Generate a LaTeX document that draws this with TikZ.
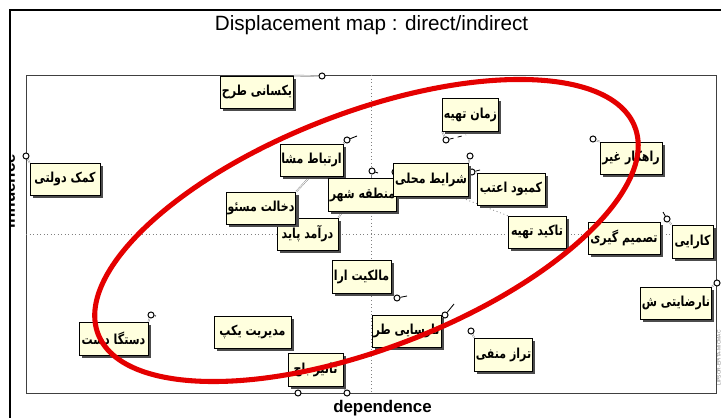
\documentclass[tikz,border=0pt]{standalone}
\usepackage{fontspec}
\setmainfont{Liberation Sans}
\newfontfamily\farsi[Script=Arabic, FakeStretch=0.8]{DejaVu Sans}
\TeXXeTstate=1
\usepackage{tikz}
\usetikzlibrary{shadows}
\definecolor{boxyellow}{RGB}{255,255,222}
\definecolor{ringred}{RGB}{228,0,0}
\pgfdeclarelayer{back}
\pgfsetlayers{back,main}
\tikzset{
    label box/.style={draw=black, fill=boxyellow, line width=0.5pt, inner sep=1pt,
        drop shadow={shadow xshift=2pt, shadow yshift=-2pt, fill=black!70, opacity=1},
        font=\farsi\bfseries\fontsize{9.8}{11}\selectfont},
    boxdim/.style 2 args={minimum width=#1*0.025cm, minimum height=#2*0.025cm},
    marker/.style={circle, draw=black, fill=white, line width=0.7pt, inner sep=0pt, minimum size=4.3pt},
    leader/.style={draw=gray, double=white, double distance=0.5pt, line width=0.3pt},
    tick/.style={line width=0.6pt},
    mid line/.style={gray, dotted, line width=0.5pt},
    ring/.style={ringred, line width=3.6pt}
}

\begin{document}
\begin{tikzpicture}[x=0.025cm, y=-0.025cm]
    \useasboundingbox (0,0) rectangle (721,418);

    % Variables
    \node[label box, boxdim={70}{32}] (yeksani) at (257,92) {\beginR یکسانی طرح\endR};
    \node[label box, boxdim={70}{32}] (komak) at (65,179) {\beginR کمک دولتی\endR};
    \node[label box, boxdim={57}{32}] (ertebat) at (311.5,160) {\beginR ارتباط مشا\endR};
    \node[label box, boxdim={61}{32}] (daramad) at (307.5,234) {\beginR درآمد پاید\endR};
    \node[label box, boxdim={68}{32}] (dekhalat) at (261,208) {\beginR دخالت مسئو\endR};
    \node[label box, boxdim={59}{33}] (mantaghe) at (362.5,194.5) {\beginR منطقه شهر\endR};
    \node[label box, boxdim={53}{33}] (zaman) at (470.5,114.5) {\beginR زمان تهیه\endR};
    \node[label box, boxdim={70}{33}] (sharayet) at (431,179.5) {\beginR شرایط محلی\endR};
    \node[label box, boxdim={68}{32}] (kambud) at (511,189) {\beginR کمبود اعتب\endR};
    \node[label box, boxdim={58}{32}] (takid) at (537,232) {\beginR تاکید تهیه\endR};
    \node[label box, boxdim={62}{32}] (rahkar) at (631,158) {\beginR راهکار غیر\endR};
    \node[label box, boxdim={72}{32}] (tasmim) at (624,238) {\beginR تصمیم گیری\endR};
    \node[label box, boxdim={41}{33}] (karayi) at (692.5,241.5) {\beginR کارایی\endR};
    \node[label box, boxdim={68}{32}] (narezayati) at (676,303) {\beginR نارضایتی ش\endR};
    \node[label box, boxdim={59}{33}] (malekiyat) at (361.5,276.5) {\beginR مالکیت ارا\endR};
    \node[label box, boxdim={63}{32}] (narasayi) at (406.5,331) {\beginR نارسایی طر\endR};
    \node[label box, boxdim={47}{33}] (taraz) at (503.5,354.5) {\beginR تراز منفی\endR};
    \node[label box, boxdim={69}{33}] (dastgah) at (113.5,338.5) {\beginR دستگا دست\endR};
    \node[label box, boxdim={77}{32}] (modiriyat) at (252.5,332) {\beginR مدیریت یکپ\endR};
    \node[label box, boxdim={55}{33}] (tasir) at (315.5,369.5) {\beginR تاثیر باج\endR};

    \begin{pgfonlayer}{back}
        % Axes
        \draw[black!75, line width=0.6pt] (26,75) rectangle (716,393);
        \draw[mid line] (371,75) -- (371,393);
        \draw[mid line] (26,234) -- (716,234);

        % Positions
        \node[marker] (m-yeksani) at (322,76) {};
        \node[marker] (m-komak) at (26,156) {};
        \node[marker] (m-ertebat) at (347,140) {};
        \coordinate (m-dekhalat) at (318,168);
        \coordinate (m-daramad) at (348,204);
        \node[marker] (m-mantaghe) at (372,171) {};
        \node[marker] (m-zaman) at (446,140) {};
        \node[marker] (m-sharayet) at (470,156) {};
        \node[marker] (m-kambud) at (472,172) {};
        \node[marker] (m-takid) at (395,172) {};
        \node[marker] (m-rahkar) at (593,139) {};
        \node[marker] (m-karayi) at (667,219) {};
        \node[marker] (m-narezayati) at (717,283) {};
        \node[marker] (m-malekiyat) at (397,298) {};
        \node[marker] (m-narasayi) at (445,315) {};
        \node[marker] (m-taraz) at (471,331) {};
        \node[marker] (m-dastgah) at (151,315) {};
        \node[marker] (m-tasir) at (298,393) {};
        \node[marker] (m-tasir2) at (347,393) {};

        % Leaders
        \draw[leader] (yeksani.north east) -- (m-yeksani);
        \draw[leader] (komak.north west) -- (m-komak);
        \draw[leader] (ertebat.north east) -- (m-ertebat);
        \draw[leader] (dekhalat.north east) -- (m-dekhalat);
        \draw[leader] (daramad.north east) -- (m-daramad);
        \draw[leader] (mantaghe.north -| m-mantaghe) -- (m-mantaghe);
        \draw[leader] (zaman.south west) -- (m-zaman);
        \draw[leader] (sharayet.north east) -- (m-sharayet);
        \draw[leader] (kambud.north west) -- (m-kambud);
        \draw[gray, dotted, line width=0.6pt] (takid.north west) -- (m-takid);
        \draw[leader] (rahkar.north west) -- (m-rahkar);
        \draw[leader] (karayi.north west) -- (m-karayi);
        \draw[leader] (narezayati.north east) -- (m-narezayati);
        \draw[leader] (malekiyat.south east) -- (m-malekiyat);
        \draw[leader] (narasayi.north east) -- (m-narasayi);
        \draw[leader] (taraz.north west) -- (m-taraz);
        \draw[leader] (dastgah.north east) -- (m-dastgah);
        \draw[leader] (tasir.south west -| m-tasir) -- (m-tasir);
        \draw[leader] (tasir.south east) -- (m-tasir2);

        % Displacements
        \coordinate (t-ertebat) at (357,136);
        \coordinate (t-mantaghe) at (378,173);
        \coordinate (t-zaman) at (466,135);
        \coordinate (t-kambud) at (480,170);
        \coordinate (t-karayi) at (663,212);
        \coordinate (t-malekiyat) at (407,296);
        \coordinate (t-narasayi) at (454,304);
        \coordinate (t-dastgah) at (156,316);
        \draw[tick] (m-ertebat) -- (t-ertebat);
        \draw[tick] (m-mantaghe) -- (t-mantaghe);
        \draw[tick, dashed] (m-zaman) -- (t-zaman);
        \draw[tick] (m-kambud) -- (t-kambud);
        \draw[tick] (m-karayi) -- (t-karayi);
        \draw[tick] (m-malekiyat) -- (t-malekiyat);
        \draw[tick] (m-narasayi) -- (t-narasayi);
        \draw[tick] (m-dastgah) -- (t-dastgah);

        % Axis labels (cut by the frame)
        \begin{scope}
            \clip (10,0) rectangle (30,418);
            \node[rotate=90, anchor=base, font=\bfseries\fontsize{12}{14}\selectfont] (inflabel) at (15,191) {influence};
        \end{scope}
    \end{pgfonlayer}

    % Red ring
    \coordinate (ring-c) at (366.5,230.5);
    \draw[ring, rotate around={21.1:(ring-c)}] (ring-c) ellipse [x radius=7.19cm, y radius=2.945cm];

    % Frame and titles
    \draw[line width=2pt] (10,418) -- (10,10) -- (721,10);
    \node[anchor=base, font=\fontsize{14.7}{17}\selectfont] (title) at (371.5,31) {Displacement map : direct/indirect};
    \node[anchor=base, font=\bfseries\fontsize{12}{14}\selectfont] (deplabel) at (382.5,412) {dependence};
    \node[rotate=90, text=gray, font=\fontsize{3.5}{4}\selectfont] (mark) at (719,358) {LIPSOR-EPITA-MICMAC};
\end{tikzpicture}
\end{document}
